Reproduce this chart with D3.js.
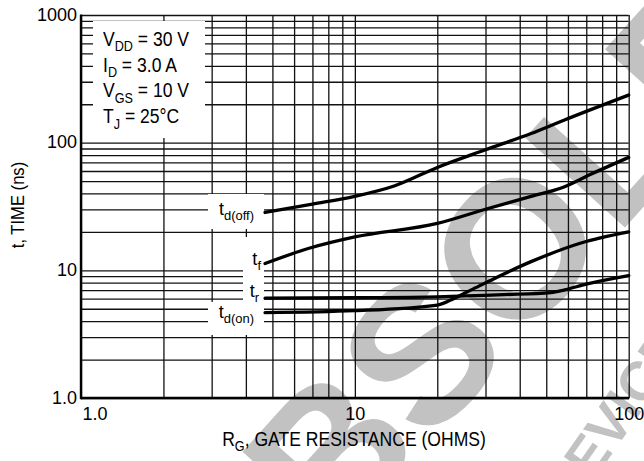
<!DOCTYPE html>
<html><head><meta charset="utf-8">
<script src="https://cdn.jsdelivr.net/npm/d3@7"></script>
<style>
html,body{margin:0;padding:0;background:#fff;}
svg{display:block;}
</style>
</head><body>
<svg id="c" width="644" height="461"></svg>
<script>
// ---- data ----
const xDomain = [1, 100];
const yDomain = [1, 1000];
const xTickValues = [1, 10, 100];
const xTickLabels = ["1.0", "10", "100"];
const yTickValues = [1, 10, 100, 1000];
const yTickLabels = ["1.0", "10", "100", "1000"];

const rgTdOff = [4.7, 7, 10, 14, 20, 30, 44, 58, 100];
const tdOff   = [28.4, 33, 38, 46, 64, 88, 118, 150, 236];
const rgTf    = [4.7, 6.8, 10, 20, 30, 44, 58, 72, 100];
const tf      = [11.3, 14.9, 18.3, 23.3, 30.1, 37.9, 45, 56, 76.7];
const rgTr    = [4.7, 10, 20, 35, 52, 58, 70, 100];
const tr      = [6.05, 6.1, 6.2, 6.45, 6.7, 7.0, 7.8, 9.1];
const rgTdOn  = [4.7, 10, 20, 22.4, 26.5, 44, 66.5, 100];
const tdOn    = [4.66, 4.83, 5.35, 5.85, 7.0, 11.7, 16.3, 20];

const conditions = [
  ["V", "DD", " = 30 V"],
  ["I", "D", " = 3.0 A"],
  ["V", "GS", " = 10 V"],
  ["T", "J", " = 25°C"]
];
const curveLabels = [["t", "d(off)"], ["t", "f"], ["t", "r"], ["t", "d(on)"]];
const xTitle = ["R", "G", ", GATE RESISTANCE (OHMS)"];
const yTitle = "t, TIME (ns)";
const watermark1 = "OBSOLETE";
const watermark2 = "DEVICE";

// ---- layout ----
const FONT = "'Liberation Sans',Arial,Helvetica,sans-serif";
const svg = d3.select("#c");
const L = 81, R = 628.7, T = 15, B = 398;
const x = d3.scaleLog().domain(xDomain).range([L, R]);
const y = d3.scaleLog().domain(yDomain).range([B, T]);

svg.append("rect").attr("width", 644).attr("height", 461).attr("fill", "#fff");

// watermark
svg.append("text").text(watermark1)
  .attr("transform", "translate(232,664) rotate(-48)")
  .attr("font-family", FONT)
  .attr("font-weight", "bold").attr("font-size", 195).attr("fill", "#c2c2c2");
svg.append("text").text(watermark2)
  .attr("transform", "translate(570,514) rotate(-55)")
  .attr("font-family", FONT)
  .attr("font-weight", "bold").attr("font-size", 55).attr("fill", "#c2c2c2");

// grid values from the scales
function decadeGrid(dom) {
  const v = [];
  for (let d = dom[0]; d < dom[1]; d *= 10) for (let k = 1; k <= 9; k++) v.push(k * d);
  v.push(dom[1]);
  return v;
}
const gx = svg.append("g").attr("transform", `translate(0,${B})`)
  .call(d3.axisBottom(x).tickValues(decadeGrid(xDomain)).tickSize(-(B - T)).tickFormat(""));
const gy = svg.append("g").attr("transform", `translate(${L},0)`)
  .call(d3.axisLeft(y).tickValues(decadeGrid(yDomain)).tickSize(-(R - L)).tickFormat(""));
[gx, gy].forEach(g => {
  g.select(".domain").remove();
  g.selectAll("line").attr("stroke", "#111").attr("stroke-width", 1.3);
});

// white boxes (conditions + curve labels)
const boxes = [
  [93, 21, 205, 138],
  [208, 194, 264, 229],
  [243, 237, 264, 304],
  [208, 302, 264, 335]
];
svg.selectAll("rect.box").data(boxes).enter().append("rect")
  .attr("x", d => d[0]).attr("y", d => d[1])
  .attr("width", d => d[2] - d[0]).attr("height", d => d[3] - d[1])
  .attr("fill", "#fff");

// axes lines (thick left/bottom)
svg.append("line").attr("x1", L).attr("x2", L).attr("y1", T - 0.6).attr("y2", B + 1.3)
  .attr("stroke", "#000").attr("stroke-width", 2.4);
svg.append("line").attr("x1", L).attr("x2", R + 0.6).attr("y1", B).attr("y2", B)
  .attr("stroke", "#000").attr("stroke-width", 2.6);

// tick labels
const ax = svg.append("g").attr("transform", `translate(0,${B})`)
  .call(d3.axisBottom(x).tickValues(xTickValues).tickSize(0).tickPadding(9)
    .tickFormat((d, i) => xTickLabels[i]));
const ay = svg.append("g").attr("transform", `translate(${L},0)`)
  .call(d3.axisLeft(y).tickValues(yTickValues).tickSize(0).tickPadding(4)
    .tickFormat((d, i) => yTickLabels[i]));
[ax, ay].forEach(g => {
  g.select(".domain").remove();
  g.selectAll("text").attr("font-family", FONT).attr("font-size", 18).attr("fill", "#000");
});
ax.selectAll("text").filter((d, i) => i === 0).attr("text-anchor", "start").attr("x", 1);
ay.selectAll("text").attr("dy", "0.28em");

// curves
const line = d3.line().x(d => x(d[0])).y(d => y(d[1])).curve(d3.curveMonotoneX);
const series = [
  [rgTdOff, tdOff], [rgTf, tf], [rgTr, tr], [rgTdOn, tdOn]
];
series.forEach(s => {
  svg.append("path").datum(s[0].map((v, i) => [v, s[1][i]]))
    .attr("d", line).attr("fill", "none").attr("stroke", "#000")
    .attr("stroke-width", 3.3).attr("stroke-linecap", "round");
});

// text helper with subscript, condensed horizontally by sx
function subText(xx, yy, parts, size, anchor, sx) {
  const g = svg.append("g").attr("transform", `translate(${xx},${yy}) scale(${sx || 1},1)`);
  const t = g.append("text").attr("x", 0).attr("y", 0)
    .attr("font-family", FONT).attr("font-size", size).attr("fill", "#000")
    .attr("text-anchor", anchor || "start");
  t.append("tspan").text(parts[0]);
  t.append("tspan").text(parts[1]).attr("font-size", size * 0.72).attr("dy", size * 0.28);
  if (parts[2]) t.append("tspan").text(parts[2]).attr("dy", -size * 0.28);
  return t;
}

// conditions
conditions.forEach((c, i) => subText(103, 46 + i * 25.7, c, 19.5, "start", 0.9));

// curve labels
const labelPos = [[254, 215], [261, 265], [259, 297], [254, 318]];
curveLabels.forEach((c, i) => subText(labelPos[i][0], labelPos[i][1], c, 19, "end", 0.95));

// axis titles
subText(354, 446, xTitle, 19.5, "middle", 0.9);
svg.append("text").text(yTitle)
  .attr("transform", "translate(24,205) rotate(-90) scale(0.95,1)")
  .attr("text-anchor", "middle").attr("font-family", FONT)
  .attr("font-size", 17.5).attr("fill", "#000");
</script>
</body></html>
